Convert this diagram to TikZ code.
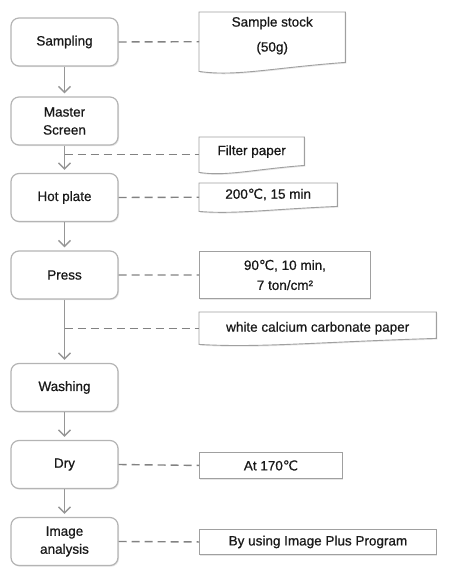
\documentclass[tikz,border=0pt]{standalone}
\usepackage{fontspec}
\setmainfont{Liberation Sans}[FakeBold=0.7]
\newfontfamily\symfont{DejaVu Sans}[FakeBold=0.5]
\usepackage{tikz}
\usetikzlibrary{arrows.meta,calc,shadows,backgrounds}

\definecolor{boxgray}{RGB}{180,180,180}
\definecolor{memogray}{RGB}{160,160,160}
\definecolor{flowgray}{RGB}{150,150,150}
\definecolor{linkgray}{RGB}{130,130,130}

\newcommand{\degC}{{\symfont ℃}}
% outline of a note with a wavy lower edge, #2 = rise of the right end
\newcommand{\docframe}[2]{%
  \begin{scope}[on background layer]
  \draw[memoline] (#1.north west) -- (#1.north east) -- ($(#1.south east)+(0pt,#2)$)
    .. controls ($(#1.south)+(0pt,0.4*#2)$) and ($(#1.south west)!0.5!(#1.south)+(0pt,-0.6*#2)$)
    .. (#1.south west) -- cycle;
  \end{scope}}

\begin{document}
\begin{tikzpicture}[x=1pt, y=-1pt,
  every node/.style={font=\fontsize{13.5}{18}\selectfont, text=black!90},
  stage/.style={draw=boxgray, line width=1.2pt, rounded corners=8pt, fill=white,
    minimum width=107pt, minimum height=48pt, align=center,
    drop shadow={shadow xshift=1pt, shadow yshift=-1.2pt, opacity=0.2}},
  memo/.style={anchor=north west, align=center, inner sep=2pt},
  memobox/.style={memo, draw=memogray, line width=0.9pt, fill=white,
    drop shadow={shadow xshift=1pt, shadow yshift=-1.2pt, opacity=0.2}},
  memoline/.style={draw=memogray, line width=0.9pt, fill=white,
    drop shadow={shadow xshift=1pt, shadow yshift=-1.2pt, opacity=0.2}},
  flow/.style={draw=flowgray, line width=1.4pt, -{Straight Barb[length=6pt,width=12pt]}, shorten >=3pt},
  link/.style={draw=linkgray, line width=1.4pt, dash pattern=on 8pt off 5pt}]
  \useasboundingbox (0,0) rectangle (450,583);

  % --- process steps -----------------------------------------------------
  \node[stage] (samp)  at (64.5,42)    {Sampling};
  \node[stage] (mscr)  at (64.5,121)   {Master\\Screen};
  \node[stage] (hotp)  at (64.5,197.5) {Hot plate};
  \node[stage] (press) at (64.5,275)   {Press};
  \node[stage] (wash)  at (64.5,387.5) {Washing};
  \node[stage] (dry)   at (64.5,464.5) {Dry};
  \node[stage] (imga)  at (64.5,541.5) {Image\\analysis};

  % --- notes ---------------------------------------------------------------
  \node[memo, minimum width=146pt, minimum height=59pt] (stock) at (199,12) {Sample stock\\[7pt](50g)\\[-3pt]};
  \node[memo, minimum width=105pt, minimum height=35pt] (filt)  at (199,137) {Filter paper\\[-9pt]};
  \node[memo, minimum width=138pt, minimum height=28pt] (heat)  at (199,183) {200\degC, 15 min\\[-11pt]};
  \node[memobox, minimum width=171pt, minimum height=47pt] (cond) at (199,251) {90\degC, 10 min,\\[2pt]7 ton/cm²};
  \node[memo, minimum width=237pt, minimum height=32pt] (paper) at (199,312) {white calcium carbonate paper};
  \node[memobox, minimum width=143pt, minimum height=26pt] (temp) at (199,452) {At 170\degC};
  \node[memobox, minimum width=237pt, minimum height=25pt] (prog) at (199,529) {By using Image Plus Program};
  \docframe{stock}{9pt}
  \docframe{filt}{7pt}
  \docframe{heat}{5pt}
  \docframe{paper}{6pt}

  % --- connectors ----------------------------------------------------------
  \draw[flow] (samp) -- (mscr);
  \draw[flow] (mscr) -- (hotp);
  \draw[flow] (hotp) -- (press);
  \draw[flow] (press) -- (wash);
  \draw[flow] (wash) -- (dry);
  \draw[flow] (dry) -- (imga);

  \draw[link] (samp.east) -- (stock.west);
  \draw[link] (mscr.south |- filt.west) -- (filt.west);
  \draw[link] (hotp.east) -- (heat.west);
  \draw[link] (press.east) -- (cond.west);
  \draw[link] (press.south |- paper.west) -- (paper.west);
  \draw[link] (dry.east) -- (temp.west);
  \draw[link] (imga.east) -- (prog.west);
\end{tikzpicture}
\end{document}
